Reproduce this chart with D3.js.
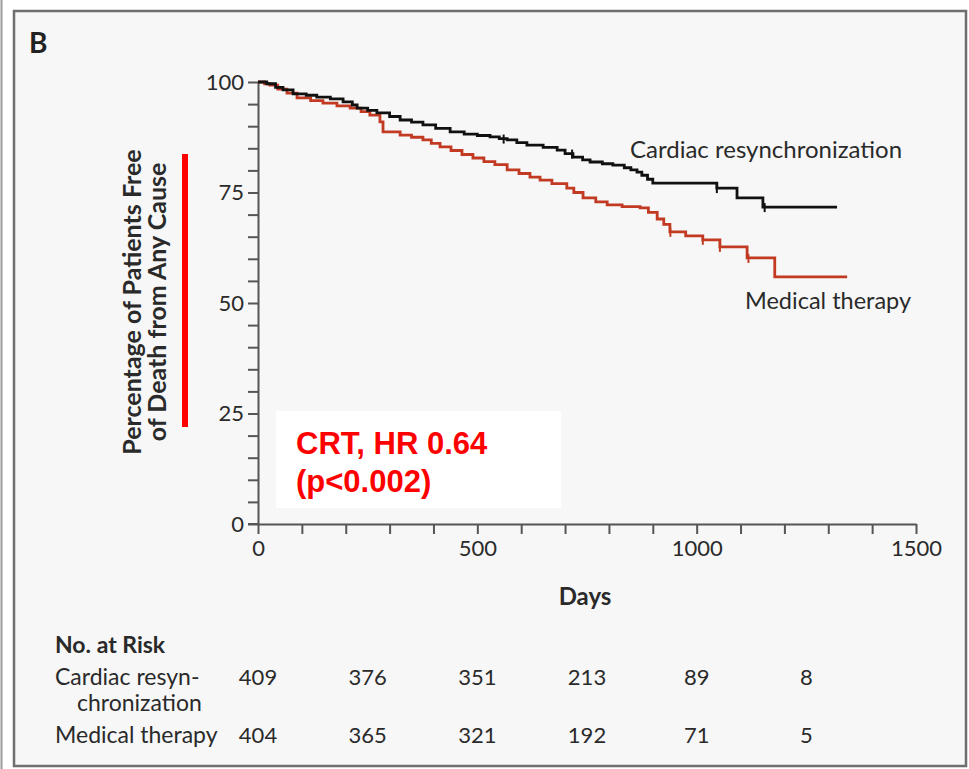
<!DOCTYPE html>
<html>
<head>
<meta charset="utf-8">
<script src="https://cdn.jsdelivr.net/npm/d3@7/dist/d3.min.js"></script>
<style>
  html, body { margin: 0; padding: 0; background: #ffffff; }
  svg { display: block; }
</style>
</head>
<body>
<script>
// Kaplan-Meier survival, all-cause death: cardiac resynchronization vs medical therapy
const crtDays = [0, 20, 40, 57, 80, 110, 134, 165, 194, 215, 226, 250, 271, 300, 324, 350, 376, 405, 438, 470, 500, 529, 550, 568, 590, 613, 650, 682, 700, 718, 740, 757, 785, 809, 835, 850, 864, 875, 888, 900, 1046, 1092, 1151, 1320];
const crtPct  = [100, 99.6, 98.8, 98.2, 97.3, 97.0, 96.6, 96.2, 95.5, 94.8, 94.1, 93.6, 93.0, 92.2, 91.4, 90.9, 90.3, 89.5, 88.7, 88.2, 87.9, 87.6, 87.2, 86.9, 86.3, 85.7, 85.2, 84.6, 83.8, 83.0, 82.4, 81.9, 81.5, 81.2, 80.6, 80.1, 79.6, 78.9, 78.0, 77.1, 76.0, 73.8, 71.7, 71.7];

const medDays = [0, 15, 27, 45, 66, 89, 120, 148, 180, 210, 235, 255, 278, 285, 324, 350, 376, 395, 415, 440, 465, 490, 515, 540, 568, 595, 620, 643, 670, 704, 720, 741, 770, 796, 830, 871, 890, 910, 925, 939, 975, 1014, 1053, 1115, 1178, 1343];
const medPct  = [100, 99.6, 99.3, 98.4, 97.5, 96.4, 95.8, 95.2, 94.6, 94.1, 93.3, 92.5, 91.0, 88.7, 88.0, 87.5, 86.9, 86.1, 85.3, 84.5, 83.6, 82.8, 82.0, 81.3, 80.1, 79.3, 78.5, 77.8, 77.0, 76.0, 75.0, 73.8, 72.9, 72.2, 71.8, 71.5, 70.5, 69.0, 67.8, 66.1, 65.2, 64.3, 62.7, 60.2, 55.9, 55.9];

// censored observations (small vertical ticks)
const crtCensor = [560, 716, 1046, 1155];
const medCensor = [940, 1014, 1053, 1118];

const seriesNames = ["Cardiac resynchronization", "Medical therapy"];
const xTickLabels = [0, 500, 1000, 1500];
const yTickLabels = [0, 25, 50, 75, 100];

// number at risk
const riskDays = [0, 250, 500, 750, 1000, 1250];
const riskCrt = [409, 376, 351, 213, 89, 8];
const riskMed = [404, 365, 321, 192, 71, 5];

const W = 969, H = 769;
const svg = d3.select("body").append("svg").attr("width", W).attr("height", H);

const font = "Lato, 'Open Sans', 'DejaVu Sans', sans-serif";
const ink = "#2a2a2a";

// panel frame
svg.append("rect").attr("x", 0).attr("y", 0).attr("width", W).attr("height", H).attr("fill", "#ffffff");
svg.append("line").attr("x1", 1.5).attr("x2", 1.5).attr("y1", 0).attr("y2", H).attr("stroke", "#9a9a9a").attr("stroke-width", 2);
svg.append("rect").attr("x", 14).attr("y", 11).attr("width", 952).attr("height", 755)
  .attr("fill", "#f7f7f7").attr("stroke", "#6e6e6e").attr("stroke-width", 2.5);

svg.append("text").attr("x", 29).attr("y", 53).text("B")
  .attr("font-family", font).attr("font-weight", 700).attr("font-size", 28).attr("fill", "#222");

const x = d3.scaleLinear().domain([0, 1500]).range([258, 916]);
const y = d3.scaleLinear().domain([0, 100]).range([524, 82]);

// y axis
const yAxis = d3.axisLeft(y).tickValues(d3.range(0, 101, 5)).tickSize(10).tickSizeOuter(0)
  .tickFormat(d => yTickLabels.includes(d) ? d : "");
const gy = svg.append("g").attr("transform", `translate(${x(0)},0)`).call(yAxis);
gy.selectAll("path, line").attr("stroke", "#555").attr("stroke-width", 2);
gy.selectAll("text").attr("font-family", font).attr("font-size", 22).attr("fill", ink).attr("dx", -1);

// x axis
const xAxis = d3.axisBottom(x).tickValues(d3.range(0, 1501, 100)).tickSize(10).tickSizeOuter(0)
  .tickFormat(d => xTickLabels.includes(d) ? d : "");
const gx = svg.append("g").attr("transform", `translate(0,${y(0)})`).call(xAxis);
gx.selectAll("path, line").attr("stroke", "#555").attr("stroke-width", 2);
gx.selectAll("text").attr("font-family", font).attr("font-size", 22).attr("fill", ink).attr("dy", "0.85em");
// extend baseline left to meet the y-axis zero tick
svg.append("line").attr("x1", x(0) - 10).attr("x2", x(0)).attr("y1", y(0)).attr("y2", y(0))
  .attr("stroke", "#555").attr("stroke-width", 2);

svg.append("text").attr("x", 585).attr("y", 605).attr("text-anchor", "middle").text("Days")
  .attr("font-family", font).attr("font-weight", 700).attr("font-size", 24).attr("fill", ink);

// y axis title
const yt = svg.append("text").attr("transform", "rotate(-90)")
  .attr("font-family", font).attr("font-weight", 700).attr("font-size", 25).attr("fill", ink)
  .attr("text-anchor", "middle");
yt.append("tspan").attr("x", -302).attr("y", 141).text("Percentage of Patients Free");
yt.append("tspan").attr("x", -302).attr("y", 166).text("of Death from Any Cause");

// survival curves
const line = d3.line().x(d => x(d[0])).y(d => y(d[1])).curve(d3.curveStepAfter);
const crtData = d3.zip(crtDays, crtPct);
const medData = d3.zip(medDays, medPct);
const colors = ["#111111", "#c23a22"];

svg.append("path").datum(medData).attr("d", line).attr("fill", "none")
  .attr("stroke", colors[1]).attr("stroke-width", 2.8);
svg.append("path").datum(crtData).attr("d", line).attr("fill", "none")
  .attr("stroke", colors[0]).attr("stroke-width", 2.8);

function valueAt(days, pct, t) {
  const i = d3.bisectRight(days, t) - 1;
  return pct[Math.max(0, i)];
}
[[crtCensor, crtDays, crtPct, colors[0]], [medCensor, medDays, medPct, colors[1]]].forEach(([cs, ds, ps, c]) => {
  svg.append("g").selectAll("line").data(cs).join("line")
    .attr("x1", d => x(d)).attr("x2", d => x(d))
    .attr("y1", d => y(valueAt(ds, ps, d)) - 4).attr("y2", d => y(valueAt(ds, ps, d)) + 5)
    .attr("stroke", c).attr("stroke-width", 2);
});

// curve labels
svg.append("text").attr("x", 630).attr("y", 158).text(seriesNames[0])
  .attr("font-family", font).attr("font-size", 24).attr("fill", ink);
svg.append("text").attr("x", 745).attr("y", 309).text(seriesNames[1])
  .attr("font-family", font).attr("font-size", 23.5).attr("fill", ink);

// highlight bar and hazard ratio box
svg.append("rect").attr("x", 182).attr("y", 154).attr("width", 6).attr("height", 273).attr("fill", "#ff0000");
svg.append("rect").attr("x", 276).attr("y", 411).attr("width", 285).attr("height", 97).attr("fill", "#ffffff");
const hr = svg.append("text").attr("font-family", "'Liberation Sans', Arial, sans-serif")
  .attr("font-weight", 700).attr("font-size", 31).attr("fill", "#ff0000");
hr.append("tspan").attr("x", 296).attr("y", 454).text("CRT, HR 0.64");
hr.append("tspan").attr("x", 296).attr("y", 492).text("(p<0.002)");

// number at risk table
const table = svg.append("g").attr("font-family", font).attr("fill", ink).attr("font-size", 23);
table.append("text").attr("x", 55).attr("y", 653).attr("font-weight", 700).text("No. at Risk");
table.append("text").attr("x", 55).attr("y", 685).text("Cardiac resyn-");
table.append("text").attr("x", 77).attr("y", 711).text("chronization");
table.append("text").attr("x", 55).attr("y", 743).text("Medical therapy");
table.append("g").selectAll("text").data(d3.zip(riskDays, riskCrt)).join("text")
  .attr("x", d => x(d[0])).attr("y", 685).attr("text-anchor", "middle").attr("font-size", 22).text(d => d[1]);
table.append("g").selectAll("text").data(d3.zip(riskDays, riskMed)).join("text")
  .attr("x", d => x(d[0])).attr("y", 743).attr("text-anchor", "middle").attr("font-size", 22).text(d => d[1]);
</script>
</body>
</html>
